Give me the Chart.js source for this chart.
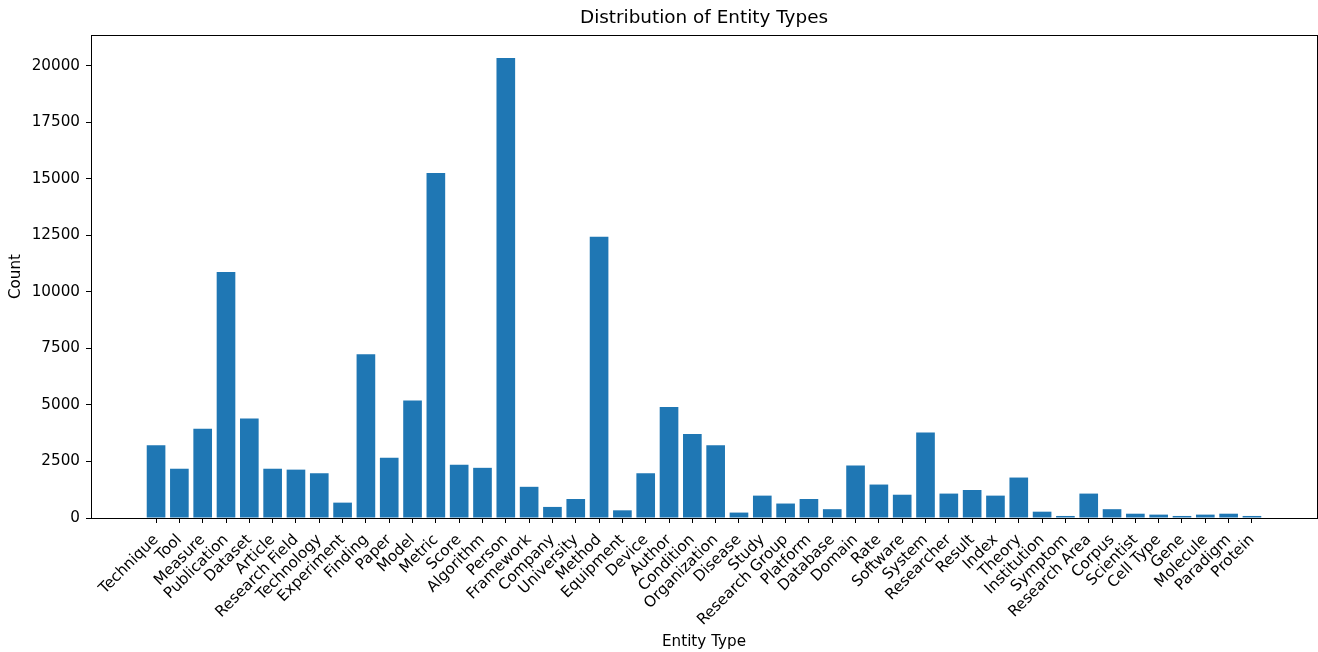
<!DOCTYPE html>
<html>
<head>
<meta charset="utf-8">
<script src="https://cdn.jsdelivr.net/npm/chart.js@4/dist/chart.umd.min.js"></script>
<style>
  html, body { margin: 0; padding: 0; background: #fff; }
</style>
</head>
<body>
<canvas id="chart" width="1318" height="652"></canvas>
<script>
var entityTypes = ['Technique', 'Tool', 'Measure', 'Publication', 'Dataset', 'Article', 'Research Field',
  'Technology', 'Experiment', 'Finding', 'Paper', 'Model', 'Metric', 'Score', 'Algorithm', 'Person',
  'Framework', 'Company', 'University', 'Method', 'Equipment', 'Device', 'Author', 'Condition',
  'Organization', 'Disease', 'Study', 'Research Group', 'Platform', 'Database', 'Domain', 'Rate',
  'Software', 'System', 'Researcher', 'Result', 'Index', 'Theory', 'Institution', 'Symptom',
  'Research Area', 'Corpus', 'Scientist', 'Cell Type', 'Gene', 'Molecule', 'Paradigm', 'Protein'];

var counts = [3220, 2180, 3950, 10890, 4400, 2180, 2140,
  1980, 680, 7250, 2670, 5200, 15260, 2360, 2220, 20350,
  1380, 490, 840, 12440, 340, 1980, 4910, 3720,
  3220, 240, 990, 640, 840, 390, 2320, 1480,
  1030, 3780, 1080, 1240, 990, 1790, 280, 90,
  1080, 390, 190, 150, 90, 150, 190, 90];

var yTicks = [0, 2500, 5000, 7500, 10000, 12500, 15000, 17500, 20000];

var font = { family: 'DejaVu Sans', size: 15.2 };
Chart.defaults.font.family = 'DejaVu Sans';
Chart.defaults.color = '#000';

// matplotlib-like 5% margins
var n = entityTypes.length;
var xPad = 0.05 * (n - 1 + 0.8);
var yMax = Math.max.apply(null, counts) * 1.05;

var frame = {
  id: 'frame',
  afterDraw: function(chart) {
    var a = chart.chartArea, ctx = chart.ctx;
    ctx.save();
    ctx.strokeStyle = '#000';
    ctx.lineWidth = 1;
    ctx.strokeRect(Math.round(a.left) + 0.5, Math.round(a.top) + 0.5,
      Math.round(a.right - a.left), Math.round(a.bottom - a.top));
    ctx.restore();
  }
};

new Chart(document.getElementById('chart'), {
  type: 'bar',
  data: {
    datasets: [{
      data: counts.map(function(v, i) { return { x: i, y: v }; }),
      backgroundColor: '#1f77b4',
      borderWidth: 0,
      barPercentage: 0.8,
      categoryPercentage: 1.0
    }]
  },
  options: {
    responsive: false,
    animation: false,
    layout: { padding: { left: 0, right: 1, top: 0, bottom: 0 } },
    plugins: {
      legend: { display: false },
      tooltip: { enabled: false },
      title: {
        display: true,
        fullSize: false,
        text: 'Distribution of Entity Types',
        font: { family: 'DejaVu Sans', size: 18.4, weight: 'normal' },
        color: '#000',
        padding: { top: 7, bottom: 6 }
      }
    },
    scales: {
      x: {
        type: 'linear',
        offset: false,
        min: -0.4 - xPad,
        max: n - 1 + 0.4 + xPad,
        afterBuildTicks: function(scale) {
          scale.ticks = entityTypes.map(function(_, i) { return { value: i }; });
        },
        afterFit: function(scale) { scale.height = 134; },
        ticks: {
          autoSkip: false,
          minRotation: 45,
          maxRotation: 45,
          padding: 8,
          labelOffset: 0,
          font: font,
          color: '#000',
          callback: function(v) { return entityTypes[v]; }
        },
        grid: { offset: false, drawOnChartArea: false, drawTicks: true, tickLength: 5, color: '#000' },
        border: { color: '#000' },
        title: { display: true, text: 'Entity Type', font: font, color: '#000', padding: { top: 0, bottom: 1 } }
      },
      y: {
        min: 0,
        max: yMax,
        afterBuildTicks: function(scale) {
          scale.ticks = yTicks.map(function(v) { return { value: v }; });
        },
        afterFit: function(scale) { scale.width = 91; },
        ticks: {
          padding: 6,
          font: font,
          color: '#000',
          callback: function(v) { return String(v); }
        },
        grid: { drawOnChartArea: false, drawTicks: true, tickLength: 5, color: '#000' },
        border: { color: '#000' },
        title: { display: true, text: 'Count', font: font, color: '#000', padding: { top: 7, bottom: 0 } }
      }
    }
  },
  plugins: [frame]
});
</script>
</body>
</html>
